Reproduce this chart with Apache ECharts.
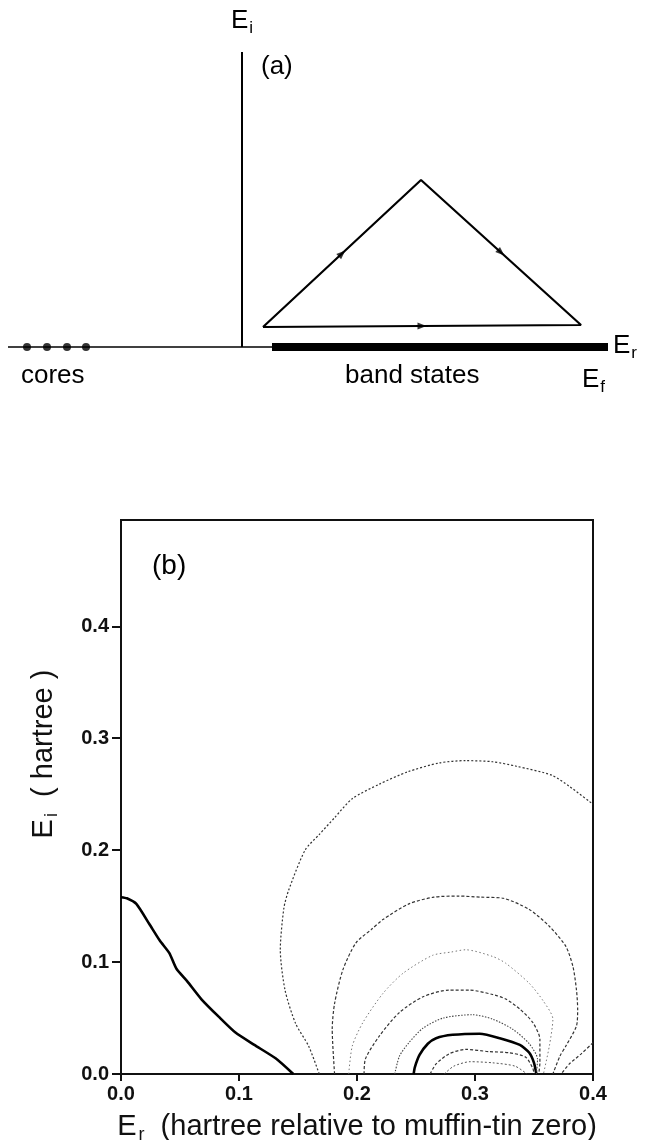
<!DOCTYPE html>
<html lang="en">
<head>
<meta charset="UTF-8">
<title>Complex energy contour</title>
<script src="https://cdn.jsdelivr.net/npm/echarts@6/dist/echarts.min.js"></script>
<style>
  html, body { margin: 0; padding: 0; background: #fff; }
  #chart { width: 646px; height: 1140px; }
</style>
</head>
<body>
<div id="chart"></div>
<script>
// ---- panel (a): schematic, arbitrary units, origin where E_i meets E_r
var eiAxis = [[0, 0], [0, 295]];
var erAxis = [[-234, 0], [30, 0]];
var bandStates = [[30, 0], [366, 0]];
var coreLevels = [-215, -195, -175, -156];
var pathCorners = [[21, 20], [179, 167], [339, 22], [21, 20]];
// arrows sit half way along these edges, pointing from first to second point
var arrowEdges = [[[21, 20], [179, 167]], [[179, 167], [339, 22]], [[21, 20], [339, 22]]];

// ---- panel (b): contours, E_r / E_i in hartree
var xTicks = [0, 0.1, 0.2, 0.3, 0.4];
var yTicks = [0, 0.1, 0.2, 0.3, 0.4];

var solidLeft = [[0, 0.158], [0.005, 0.157], [0.013, 0.152], [0.024, 0.134], [0.033, 0.119],
  [0.041, 0.108], [0.047, 0.094], [0.056, 0.083], [0.068, 0.067], [0.083, 0.051],
  [0.097, 0.037], [0.113, 0.026], [0.131, 0.014], [0.146, 0]];
var solidInner = [[0.248, 0], [0.249, 0.006], [0.253, 0.017], [0.26, 0.027], [0.267, 0.032],
  [0.281, 0.035], [0.304, 0.036], [0.321, 0.032], [0.338, 0.026], [0.346, 0.019],
  [0.35, 0.01], [0.352, 0]];
var ring1 = [[0.168, 0], [0.159, 0.025], [0.148, 0.045], [0.139, 0.075], [0.135, 0.111],
  [0.138, 0.148], [0.142, 0.164], [0.156, 0.2], [0.168, 0.214], [0.181, 0.229],
  [0.196, 0.246], [0.219, 0.259], [0.243, 0.27], [0.27, 0.278], [0.292, 0.28],
  [0.315, 0.279], [0.335, 0.275], [0.365, 0.267], [0.38, 0.257], [0.4, 0.241]];
var ring2 = [[0.181, 0], [0.179, 0.04], [0.181, 0.063], [0.188, 0.093], [0.199, 0.117],
  [0.212, 0.129], [0.222, 0.138], [0.244, 0.152], [0.265, 0.158], [0.286, 0.159],
  [0.305, 0.158], [0.324, 0.157], [0.346, 0.147], [0.363, 0.132], [0.377, 0.114],
  [0.383, 0.096], [0.386, 0.075], [0.387, 0.058], [0.386, 0.043], [0.377, 0.025],
  [0.372, 0.016], [0.366, 0]];
var ring3 = [[0.193, 0], [0.196, 0.025], [0.205, 0.046], [0.222, 0.072], [0.239, 0.09],
  [0.264, 0.106], [0.28, 0.109], [0.292, 0.111], [0.315, 0.105], [0.326, 0.099],
  [0.346, 0.081], [0.358, 0.065], [0.366, 0.049], [0.363, 0.025], [0.358, 0]];
var ring4 = [[0.206, 0], [0.207, 0.013], [0.219, 0.034], [0.236, 0.055], [0.256, 0.069],
  [0.278, 0.075], [0.295, 0.075], [0.315, 0.071], [0.326, 0.067], [0.338, 0.058],
  [0.349, 0.046], [0.355, 0.031], [0.355, 0.01], [0.354, 0]];
var ring5 = [[0.232, 0], [0.236, 0.016], [0.244, 0.028], [0.256, 0.041], [0.273, 0.05],
  [0.298, 0.053], [0.315, 0.049], [0.332, 0.04], [0.346, 0.027], [0.353, 0.013], [0.352, 0]];
var ring6 = [[0.262, 0], [0.267, 0.009], [0.278, 0.018], [0.292, 0.022], [0.312, 0.02],
  [0.329, 0.019], [0.343, 0.015], [0.349, 0.005], [0.35, 0]];
var ring7 = [[0.274, 0], [0.282, 0.007], [0.296, 0.011], [0.315, 0.01], [0.334, 0.007], [0.344, 0]];
var edgePiece = [[0.4, 0.028], [0.39, 0.018], [0.38, 0.009], [0.373, 0]];

var FONT = '"Liberation Sans", Arial, Helvetica, sans-serif';
var myChart = echarts.init(document.getElementById('chart'), null, { renderer: 'canvas' });

function arrowPoints() {
  return arrowEdges.map(function (e) {
    var dx = e[1][0] - e[0][0], dy = e[1][1] - e[0][1];
    var ang = Math.atan2(dy, dx) * 180 / Math.PI;
    return {
      value: [(e[0][0] + e[1][0]) / 2, (e[0][1] + e[1][1]) / 2],
      symbolRotate: ang - 90
    };
  });
}

function schem(data, width) {
  return {
    type: 'line', xAxisIndex: 0, yAxisIndex: 0, data: data,
    symbol: 'none', silent: true,
    lineStyle: { color: '#000', width: width }
  };
}

function contour(data, width, dash, color, smooth) {
  return {
    type: 'line', xAxisIndex: 1, yAxisIndex: 1, data: data,
    symbol: 'none', silent: true, smooth: smooth || 0.25,
    lineStyle: { color: color, width: width, type: dash }
  };
}

var subRich = {
  e: { fontSize: 26, fontFamily: FONT, color: '#000' },
  s: { fontSize: 17, fontFamily: FONT, color: '#000', padding: [14, 0, 0, 1] }
};

var option = {
  animation: false,
  backgroundColor: '#fff',
  textStyle: { fontFamily: FONT },
  grid: [
    { left: 0, top: 0, width: 646, height: 480, show: false, outerBoundsMode: 'none' },
    { left: 121, top: 520, width: 472, height: 554, show: true, outerBoundsMode: 'none',
      borderColor: '#111', borderWidth: 2, backgroundColor: 'transparent' }
  ],
  xAxis: [
    { gridIndex: 0, type: 'value', min: -242, max: 404, show: false },
    { gridIndex: 1, type: 'value', min: 0, max: 0.4, interval: 0.1,
      axisLine: { show: true, onZero: false, lineStyle: { color: '#111', width: 2 } },
      axisTick: { show: true, length: 7, customValues: xTicks, lineStyle: { color: '#111', width: 2 } },
      axisLabel: { customValues: xTicks, margin: 10, color: '#111', fontSize: 20, fontWeight: 'bold',
        fontFamily: FONT, formatter: function (v) { return v.toFixed(1); } },
      splitLine: { show: false },
      name: '{e|E}{s|r}{t|  (hartree relative to muffin-tin zero)}',
      nameLocation: 'middle', nameGap: 36,
      nameTextStyle: { rich: { e: { fontSize: 29, fontFamily: FONT, color: '#111' },
        s: { fontSize: 18, fontFamily: FONT, color: '#111', padding: [16, 0, 0, 2] },
        t: { fontSize: 29, fontFamily: FONT, color: '#111' } } }
    }
  ],
  yAxis: [
    { gridIndex: 0, type: 'value', min: -133, max: 347, show: false },
    { gridIndex: 1, type: 'value', min: 0, max: 0.495, interval: 0.1,
      axisLine: { show: true, onZero: false, lineStyle: { color: '#111', width: 2 } },
      axisTick: { show: true, length: 9, customValues: yTicks, lineStyle: { color: '#111', width: 2 } },
      axisLabel: { customValues: yTicks, margin: 12, color: '#111', fontSize: 20, fontWeight: 'bold',
        fontFamily: FONT, formatter: function (v) { return v.toFixed(1); } },
      splitLine: { show: false },
      name: '{e|E}{s|i}{t|  ( hartree )}',
      nameLocation: 'middle', nameGap: 60,
      nameTextStyle: { padding: [0, 0, 0, 86], rich: { e: { fontSize: 29, fontFamily: FONT, color: '#111' },
        s: { fontSize: 18, fontFamily: FONT, color: '#111', padding: [16, 0, 0, 2] },
        t: { fontSize: 29, fontFamily: FONT, color: '#111' } } }
    }
  ],
  graphic: [
    { type: 'text', left: 231, top: 8, style: { text: '{e|E}{s|i}', rich: subRich } },
    { type: 'text', left: 261, top: 54, style: { text: '(a)', fontSize: 26, fontFamily: FONT, fill: '#000' } },
    { type: 'text', left: 613, top: 333, style: { text: '{e|E}{s|r}', rich: subRich } },
    { type: 'text', left: 21, top: 363, style: { text: 'cores', fontSize: 26, fontFamily: FONT, fill: '#000' } },
    { type: 'text', left: 345, top: 363, style: { text: 'band states', fontSize: 26, fontFamily: FONT, fill: '#000' } },
    { type: 'text', left: 582, top: 367, style: { text: '{e|E}{s|f}', rich: subRich } },
    { type: 'text', left: 152, top: 552, style: { text: '(b)', fontSize: 28, fontFamily: FONT, fill: '#000' } }
  ],
  series: [
    schem(erAxis, 1.5),
    schem(eiAxis, 2),
    schem(bandStates, 8),
    schem(pathCorners, 2.2),
    { type: 'scatter', xAxisIndex: 0, yAxisIndex: 0, silent: true,
      data: coreLevels.map(function (x) { return [x, 0]; }),
      symbol: 'circle', symbolSize: 8, itemStyle: { color: '#000' } },
    { type: 'scatter', xAxisIndex: 0, yAxisIndex: 0, silent: true,
      data: arrowPoints(), symbol: 'triangle', symbolSize: [7, 9], itemStyle: { color: '#000' } },

    contour(solidLeft, 2.6, 'solid', '#000', 0.2),
    contour(solidInner, 2.6, 'solid', '#000', 0.2),
    contour(ring1, 1.2, [2, 2], '#333'),
    contour(ring2, 1.2, [3, 2], '#333'),
    contour(ring3, 1, [1.5, 2.5], '#777'),
    contour(ring4, 1.2, [3, 2], '#333'),
    contour(ring5, 1.1, [1.5, 1.5], '#444'),
    contour(ring6, 1.2, [3, 2], '#333'),
    contour(ring7, 1, [2, 2], '#555'),
    contour(edgePiece, 1.2, [3, 2], '#333')
  ]
};

myChart.setOption(option);
</script>
</body>
</html>
